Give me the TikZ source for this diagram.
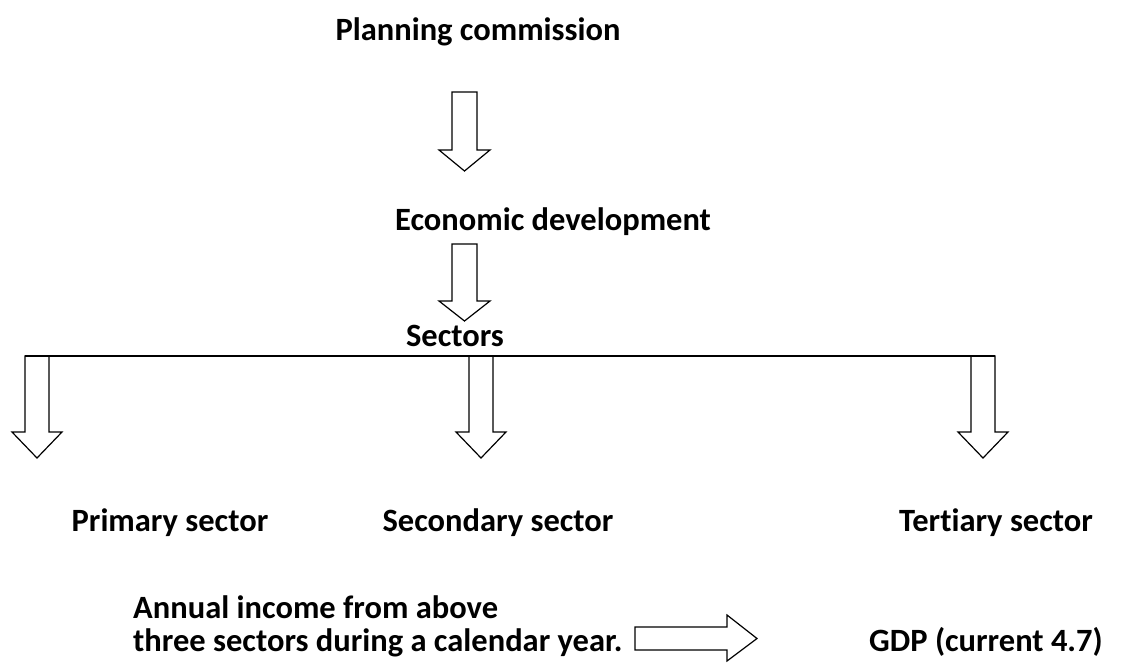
\documentclass[tikz,border=0pt]{standalone}
\usepackage{fontspec}
\setmainfont{Carlito}[Ligatures=CommonOff]
\begin{document}
\begin{tikzpicture}[x=1pt,y=-1pt,
  lbl/.style={font=\fontsize{32.5}{33}\selectfont\bfseries, inner sep=0pt, anchor=base},
  blk/.style={draw=black, line width=1.2pt, fill=white, line join=miter},
  pics/downarrow/.style args={#1/#2/#3/#4}{code={
    % #1 shaft half width, #2 head start, #3 head half width, #4 tip
    \draw[blk] (-#1,0) -- (#1,0) -- (#1,#2) -- (#3,#2) -- (0,#4) -- (-#3,#2) -- (-#1,#2) -- cycle;
  }}]
\useasboundingbox (0,0) rectangle (1138,662);

% labels
\node[lbl] (plan) at (478,40) {Planning commission};
\node[lbl] (econ) at (553,230) {Economic development};
\node[lbl] (sect) at (455,346) {Sectors};
\node[lbl] (prim) at (170,531) {Primary sector};
\node[lbl] (secn) at (498,531) {Secondary sector};
\node[lbl] (tert) at (996,531) {Tertiary sector};
\node[lbl, anchor=base west, align=left] (annual) at (133,651)
  {Annual income from above\\three sectors during a calendar year.};
\node[lbl] (gdp) at (986,651) {GDP (current 4.7)};

% vertical flow
\pic at (464.5,92) {downarrow={12.5/58/25.5/79}};
\pic at (464.5,244) {downarrow={12.5/57/25.5/77}};

% branch line and sector arrows
\coordinate (bl) at (25,356);
\coordinate (br) at (995,356);
\pic at (37,356) {downarrow={12/76/25/102}};
\pic at (481,356) {downarrow={12/76/25/102}};
\pic at (983,356) {downarrow={12/76/25/102}};
\draw[line width=1.2pt] (bl) -- (br);

% income to GDP
\draw[blk] (635,627) -- (727,627) -- (727,615) -- (757,638.5) -- (727,661) -- (727,650) -- (635,650) -- cycle;
\end{tikzpicture}
\end{document}
